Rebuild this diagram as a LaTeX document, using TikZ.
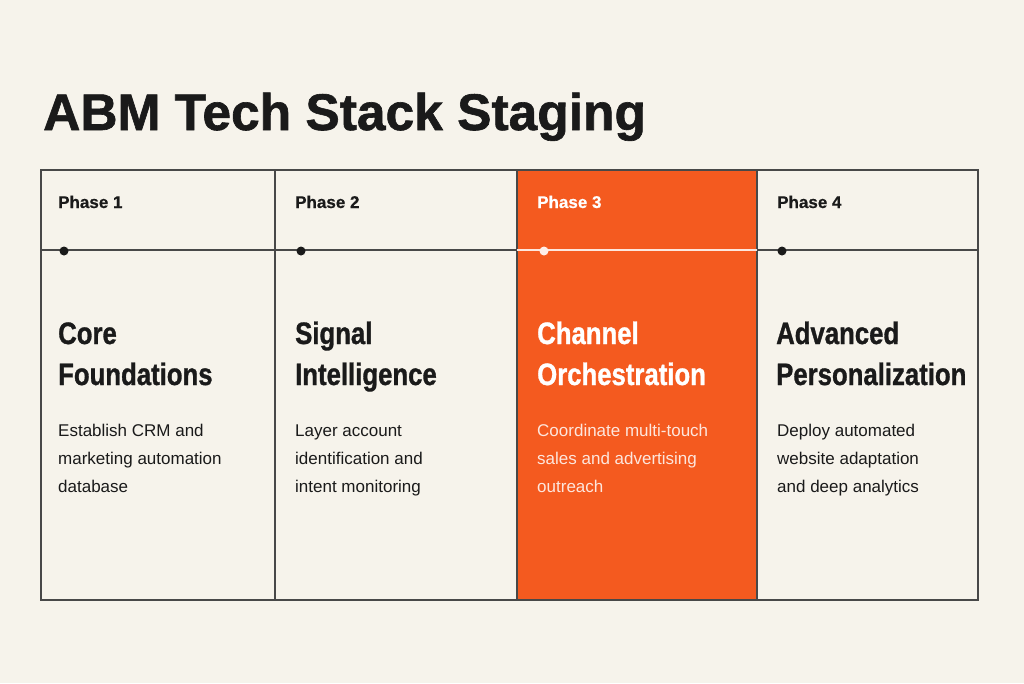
\documentclass[tikz,border=0pt]{standalone}
\usepackage{fontspec}
\setmainfont{Liberation Sans}
\newfontfamily\hdfont[FakeStretch=0.83,FakeBold=1]{Liberation Sans Bold}
\newfontfamily\ttlfont[FakeBold=1.2]{Liberation Sans Bold}
\newfontfamily\phfont[FakeBold=0.6]{Liberation Sans Bold}
\begin{document}
\definecolor{bg}{HTML}{F6F3EB}
\definecolor{org}{HTML}{F45A1F}
\definecolor{ink}{HTML}{1A1A1A}
\begin{tikzpicture}[x=1pt,y=-1pt,
  ph/.style={anchor=base west,font=\phfont\fontsize{17}{20}\selectfont,text=ink},
  hd/.style={anchor=base west,align=left,font=\hdfont\fontsize{31}{41}\selectfont,text=ink},
  bd/.style={anchor=base west,align=left,font=\fontsize{17}{28}\selectfont,text=ink},
  dot/.style={circle,fill=ink,inner sep=0,minimum size=9pt}]
\useasboundingbox (0,0) rectangle (1024,683);
\fill[bg] (0,0) rectangle (1024,683);
\fill[org] (517,170) rectangle (757,600);
\node[anchor=base west,font=\ttlfont\fontsize{51.5}{54}\selectfont,text=ink,inner sep=0] (title) at (43,130) {ABM Tech Stack Staging};
\draw[ink!80,line width=1.2pt] (41,170) rectangle (978,600);
\foreach \x in {275,517,757} \draw[ink!80,line width=1.2pt] (\x,170) -- (\x,600);
\draw[ink!80,line width=1.2pt] (41,250) -- (517,250);
\draw[white!85!org,line width=1.2pt] (517,250) -- (757,250);
\draw[ink!80,line width=1.2pt] (757,250) -- (978,250);
\node[dot] (d1) at (64,251) {};
\node[dot] (d2) at (301,251) {};
\node[dot,fill=white!90!org] (d3) at (544,251) {};
\node[dot] (d4) at (782,251) {};
\node[ph,inner sep=0] (p1) at (58,208) {Phase 1};
\node[ph,inner sep=0] (p2) at (295,208) {Phase 2};
\node[ph,inner sep=0,text=white] (p3) at (537,208) {Phase 3};
\node[ph,inner sep=0] (p4) at (777,208) {Phase 4};
\node[hd,inner sep=0] (h1) at (58,385) {Core\\Foundations};
\node[hd,inner sep=0] (h2) at (295,385) {Signal\\Intelligence};
\node[hd,inner sep=0,text=white] (h3) at (537,385) {Channel\\Orchestration};
\node[hd,inner sep=0] (h4) at (776,385) {Advanced\\Personalization};
\node[bd,inner sep=0] (b1) at (58,492) {Establish CRM and\\marketing automation\\database};
\node[bd,inner sep=0] (b2) at (295,492) {Layer account\\identification and\\intent monitoring};
\node[bd,inner sep=0,text=white!85!org] (b3) at (537,492) {Coordinate multi-touch\\sales and advertising\\outreach};
\node[bd,inner sep=0] (b4) at (777,492) {Deploy automated\\website adaptation\\and deep analytics};
\end{tikzpicture}
\end{document}
